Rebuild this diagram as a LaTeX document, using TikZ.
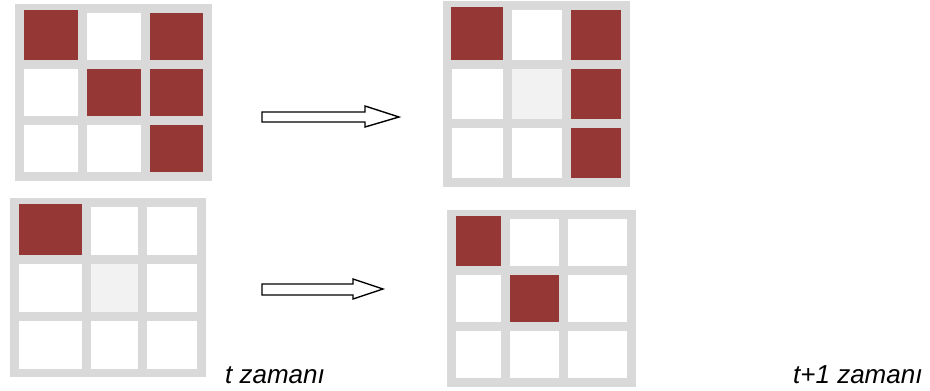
\documentclass[tikz,border=0pt]{standalone}
\usepackage{fontspec}
\setmainfont{Liberation Sans}
\definecolor{framegray}{HTML}{D9D9D9}
\definecolor{cellred}{HTML}{953735}
\definecolor{palecell}{HTML}{F2F2F2}
\tikzset{
  frame/.style={fill=framegray},
  blank/.style={fill=white},
  live/.style={fill=cellred},
  faded/.style={fill=palecell},
  blockarrow/.style={draw=black, fill=white, line width=1.4pt, line join=miter},
  caption/.style={anchor=base west, inner sep=0pt, font=\fontsize{26}{30}\selectfont\itshape}
}
\begin{document}
\begin{tikzpicture}[x=1pt,y=-1pt]
\useasboundingbox (0,0) rectangle (930,391);

% grid A: state at time t (top)
\fill[frame] (15,4) rectangle (212,181);
\fill[live]  (24,10)  rectangle (78,60);
\fill[blank] (87,13)  rectangle (141,60);
\fill[live]  (150,13) rectangle (203,60);
\fill[blank] (24,69)  rectangle (78,116);
\fill[live]  (87,69)  rectangle (141,116);
\fill[live]  (150,69) rectangle (203,116);
\fill[blank] (24,125) rectangle (78,172);
\fill[blank] (87,125) rectangle (141,172);
\fill[live]  (150,125) rectangle (203,172);

% grid B: state at time t+1 (top)
\fill[frame] (443,1) rectangle (630,187);
\fill[live]  (451,7)  rectangle (503,60);
\fill[blank] (512,10) rectangle (562,60);
\fill[live]  (571,10) rectangle (621,60);
\fill[blank] (452,69) rectangle (503,119);
\fill[faded] (512,69) rectangle (562,119);
\fill[live]  (571,69) rectangle (621,119);
\fill[blank] (452,128) rectangle (503,178);
\fill[blank] (512,128) rectangle (562,178);
\fill[live]  (571,128) rectangle (621,178);

% grid C: state at time t (bottom)
\fill[frame] (10,198) rectangle (206,377);
\fill[live]  (19,204)  rectangle (82,255);
\fill[blank] (91,207)  rectangle (138,255);
\fill[blank] (147,207) rectangle (197,255);
\fill[blank] (19,264)  rectangle (82,312);
\fill[faded] (91,264)  rectangle (138,312);
\fill[blank] (147,264) rectangle (197,312);
\fill[blank] (19,321)  rectangle (82,369);
\fill[blank] (91,321)  rectangle (138,369);
\fill[blank] (147,321) rectangle (197,369);

% grid D: state at time t+1 (bottom)
\fill[frame] (447,210) rectangle (636,387);
\fill[live]  (456,216) rectangle (501,266);
\fill[blank] (510,219) rectangle (559,266);
\fill[blank] (568,219) rectangle (627,266);
\fill[blank] (456,275) rectangle (501,322);
\fill[live]  (510,275) rectangle (559,322);
\fill[blank] (568,275) rectangle (627,322);
\fill[blank] (456,331) rectangle (501,378);
\fill[blank] (510,331) rectangle (559,378);
\fill[blank] (568,331) rectangle (627,378);

% block arrows between the two states
\draw[blockarrow] (262,112) -- (365,112) -- (365,106) -- (399,117)
  -- (365,127) -- (365,122) -- (262,122) -- cycle;
\draw[blockarrow] (262,284) -- (353,284) -- (353,279) -- (383,289)
  -- (353,299) -- (353,295) -- (262,295) -- cycle;

% time captions
\node[caption] (tnow)  at (225,383) {t zamanı};
\node[caption] (tnext) at (793,383) {t+1 zamanı};
\end{tikzpicture}
\end{document}
